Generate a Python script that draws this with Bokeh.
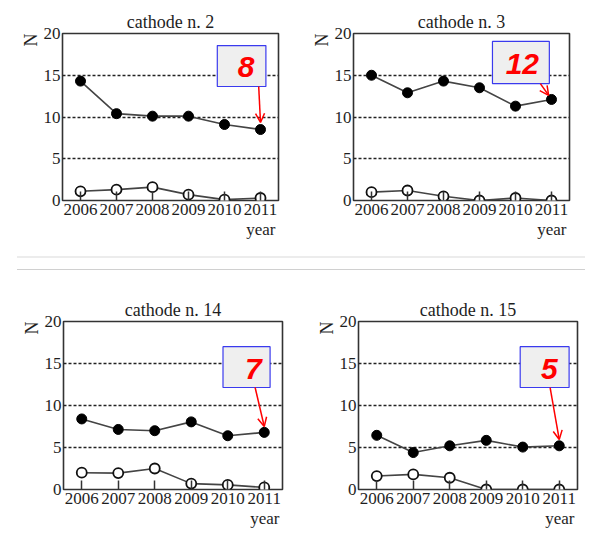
from bokeh.plotting import figure
from bokeh.models import FixedTicker, Label, BoxAnnotation, Arrow, OpenHead, Range1d, Div, Title
from bokeh.layouts import row, column
from bokeh.embed import file_html
from bokeh.resources import INLINE

# ---- data ----
years = [2006, 2007, 2008, 2009, 2010, 2011]
y_ticks = [0, 5, 10, 15, 20]
grid_ticks = [5, 10, 15]
titles = ["cathode n. 2", "cathode n. 3", "cathode n. 14", "cathode n. 15"]

c2_filled = [14.3, 10.4, 10.1, 10.1, 9.1, 8.5]
c2_open = [1.1, 1.3, 1.6, 0.7, 0.1, 0.3]
c3_filled = [15.0, 12.9, 14.3, 13.5, 11.3, 12.1]
c3_open = [1.0, 1.2, 0.5, 0.0, 0.3, 0.0]
c14_filled = [8.4, 7.15, 7.0, 8.05, 6.4, 6.8]
c14_open = [2.0, 1.95, 2.5, 0.7, 0.55, 0.25]
c15_filled = [6.45, 4.4, 5.2, 5.85, 5.05, 5.2]
c15_open = [1.6, 1.8, 1.4, 0.0, 0.0, 0.0]

callouts = ["8", "12", "7", "5"]

SERIF = "Liberation Serif"
SANS = "Liberation Sans"
TXT = "#1e1e1e"


def make_panel(title, filled, opened, callout, box, text_xy, arrow,
               width, height, bl, br, bt, bb):
    p = figure(width=width, height=height, output_backend="svg",
               toolbar_location=None,
               x_range=Range1d(2005.5, 2011.5), y_range=Range1d(0, 20),
               min_border_left=bl, min_border_right=br,
               min_border_top=bt, min_border_bottom=bb)
    p.background_fill_color = "white"
    p.border_fill_color = "white"
    p.outline_line_color = "#333333"
    p.outline_line_width = 1.6

    p.title.text = title
    p.title.align = "center"
    p.title.text_font = SERIF
    p.title.text_font_size = "18px"
    p.title.text_font_style = "normal"
    p.title.text_color = TXT
    p.title.standoff = 3

    p.xgrid.visible = False
    p.ygrid.ticker = FixedTicker(ticks=grid_ticks)
    p.ygrid.grid_line_color = "#222222"
    p.ygrid.grid_line_dash = "3 2"
    p.ygrid.grid_line_width = 1.4

    xa = p.xaxis[0]
    xa.ticker = FixedTicker(ticks=years)
    xa.axis_line_color = None
    xa.major_tick_in = 9
    xa.major_tick_out = 0
    xa.major_tick_line_color = "#333333"
    xa.major_tick_line_width = 1.5
    xa.minor_tick_line_color = None
    xa.major_label_standoff = 3
    xa.major_label_text_font = SERIF
    xa.major_label_text_font_size = "17px"
    xa.major_label_text_color = TXT

    ya = p.yaxis[0]
    ya.ticker = FixedTicker(ticks=y_ticks)
    ya.axis_line_color = None
    ya.major_tick_line_color = None
    ya.major_tick_in = 0
    ya.major_tick_out = 0
    ya.minor_tick_line_color = None
    ya.major_label_standoff = 2
    ya.major_label_text_font = SERIF
    ya.major_label_text_font_size = "17px"
    ya.major_label_text_color = TXT

    # data
    p.line(years, filled, line_color="#444444", line_width=1.6)
    p.scatter(years, filled, size=10, fill_color="black", line_color="black")
    p.line(years, opened, line_color="#444444", line_width=1.6)
    p.scatter(years, opened, size=10, fill_color="white", line_color="#111111",
              line_width=1.8)

    # axis names
    p.add_layout(Title(text="N", align="right", text_font=SERIF,
                       text_font_size="18px", text_font_style="normal",
                       text_color=TXT, standoff=0), "left")
    p.add_layout(Title(text="year", align="right", text_font=SERIF,
                       text_font_size="17px", text_font_style="normal",
                       text_color=TXT, standoff=0, offset=3), "below")

    # callout
    l, r, b, t = box
    p.add_layout(BoxAnnotation(left=l, right=r, bottom=b, top=t,
                               fill_color="#efefef", fill_alpha=1.0,
                               line_color="#3a3aee", line_width=1.2,
                               line_alpha=1.0))
    p.add_layout(Label(x=text_xy[0], y=text_xy[1], text=callout,
                       text_align="center", text_baseline="middle",
                       text_font=SANS, text_font_style="bold italic",
                       text_font_size="30px", text_color="#ff0000"))
    x0, y0, x1, y1 = arrow
    p.add_layout(Arrow(end=OpenHead(size=9, line_color="#ff0000", line_width=1.5),
                       x_start=x0, y_start=y0, x_end=x1, y_end=y1,
                       line_color="#ff0000", line_width=1.5))
    return p


p1 = make_panel(titles[0], c2_filled, c2_open, callouts[0],
                (2009.8, 2011.15, 13.65, 18.55), (2010.6, 16.0),
                (2010.95, 13.65, 2011.0, 9.35),
                298, 256, 62, 20, 33, 56)
p2 = make_panel(titles[1], c3_filled, c3_open, callouts[1],
                (2009.36, 2010.94, 14.0, 19.05), (2010.19, 16.4),
                (2010.69, 14.0, 2010.92, 12.6),
                287, 256, 55, 16, 33, 56)
p3 = make_panel(titles[2], c14_filled, c14_open, callouts[2],
                (2009.87, 2011.16, 12.14, 17.0), (2010.7, 14.4),
                (2010.75, 12.14, 2011.0, 7.5),
                295, 263, 63, 13, 51, 44)
p4 = make_panel(titles[3], c15_filled, c15_open, callouts[3],
                (2009.93, 2011.27, 12.14, 17.0), (2010.73, 14.4),
                (2010.75, 12.14, 2011.0, 5.95),
                290, 263, 63, 8, 51, 44)

sep = Div(text=('<div style="margin-left:17px;width:568px;height:2px;background:#ececec"></div>'
                '<div style="margin-left:17px;margin-top:11px;width:568px;height:1px;background:#d0d0d0"></div>'),
          width=585, height=14, margin=(0, 0, 0, 0))

layout = column(row(p1, p2, spacing=0), sep, row(p3, p4, spacing=0), spacing=0)

open("out.html", "w").write(file_html(layout, INLINE))
